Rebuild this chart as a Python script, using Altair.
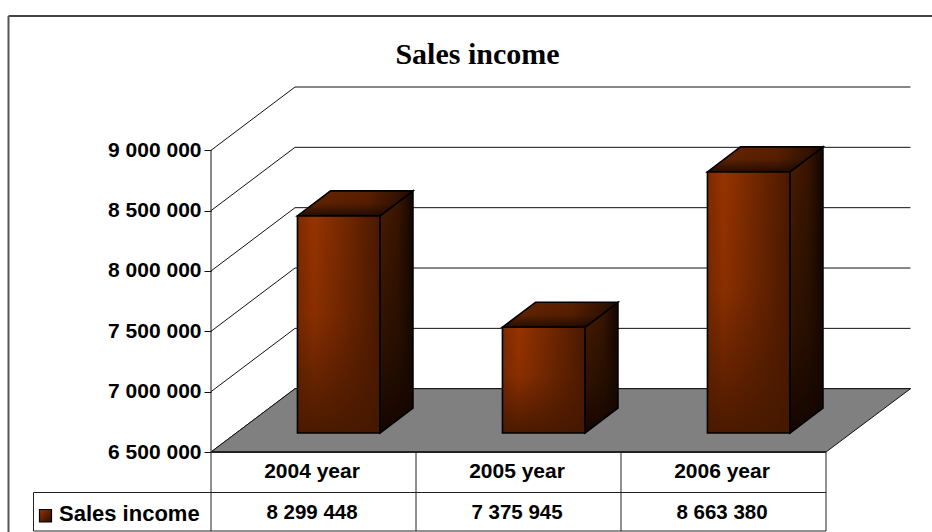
import altair as alt
import pandas as pd

# Chart content
CATEGORIES = ["2004 year", "2005 year", "2006 year"]
SALES = [8299448, 7375945, 8663380]
TICKS = [6500000, 7000000, 7500000, 8000000, 8500000, 9000000]
SERIES = "Sales income"

# Canvas and oblique projection, in pixels
W, H = 932, 532
FLOOR_Y = 452.0
PX_PER_UNIT = 301.7 / 2500000
AXIS_X = 211.0
COL_STEP = 205.0
WALL_DX, WALL_DY = 84.0, 63.3
WALL_END_X = 910.5
BAR_W = 82.5
BAR_SHIFT_DX, BAR_SHIFT_DY = 25.2, 19.0
BAR_DX, BAR_DY = 33.0, 25.0
BASE = TICKS[0]


def units(px):
    return px / PX_PER_UNIT


def row(px):
    """Value whose scale position is the given canvas row."""
    return BASE + units(FLOOR_Y - px)


Y_DOMAIN = [row(H), row(0)]
x_scale = alt.Scale(domain=[AXIS_X, W], range=[0, W - AXIS_X], nice=False, zero=False)
y_scale = alt.Scale(domain=Y_DOMAIN, range=[H, 0], nice=False, zero=False)
y_axis = alt.Axis(
    values=TICKS, domain=False, grid=False, tickSize=7,
    tickColor="#111", labelPadding=3, title=None,
    labelFont="Liberation Sans", labelFontSize=21, labelFontWeight="bold",
    labelColor="black", labelExpr="replace(format(datum.value, ','), /,/g, ' ')",
)
X = lambda f: alt.X(f, type="quantitative", scale=x_scale, axis=None)
Y = lambda f: alt.Y(f, type="quantitative", scale=y_scale, axis=y_axis)

# Wall grid: a diagonal from each tick to the back wall, then across it
wall = pd.DataFrame({"v": TICKS})
wall["back"] = wall.v + units(WALL_DY)
wall["ax"], wall["bx"], wall["ex"] = AXIS_X, AXIS_X + WALL_DX, WALL_END_X

# Floor parallelogram
floor = pd.DataFrame({
    "y": [BASE, BASE + units(WALL_DY)],
    "x": [AXIS_X, AXIS_X + WALL_DX],
    "x2": [AXIS_X + 3 * COL_STEP, WALL_END_X],
})

# Columns: front, side and top faces derived from each value
front, side, top = [], [], []
for i, (cat, val) in enumerate(zip(CATEGORIES, SALES)):
    x0 = AXIS_X + COL_STEP * (i + 0.5) + BAR_SHIFT_DX - BAR_W / 2
    x1 = x0 + BAR_W
    lo = BASE + units(BAR_SHIFT_DY)
    hi = val + units(BAR_SHIFT_DY)
    d = units(BAR_DY)
    front.append({"id": i, "x": x0, "x2": x1, "y": lo, "y2": hi})
    side += [
        {"id": i, "x": x1, "y": lo, "y2": hi},
        {"id": i, "x": x1 + BAR_DX, "y": lo + d, "y2": hi + d},
    ]
    top += [
        {"id": i, "y": hi, "x": x0, "x2": x1},
        {"id": i, "y": hi + d, "x": x0 + BAR_DX, "x2": x1 + BAR_DX},
    ]
front, side, top = map(pd.DataFrame, (front, side, top))


def grad(stops, x1=0, y1=0, x2=1, y2=0):
    return {
        "gradient": "linear", "x1": x1, "y1": y1, "x2": x2, "y2": y2,
        "stops": [{"offset": o, "color": c} for o, c in stops],
    }


FRONT_H = grad([(0, "#7c2b00"), (0.2, "#973300"), (0.55, "#752800"), (1, "#4a1900")])
FRONT_V = grad([(0, "rgba(60,18,0,0)"), (0.45, "rgba(70,24,0,0.15)"), (1, "rgba(70,24,0,0.95)")],
               x2=0, y2=1)
SIDE_H = grad([(0, "#4d1c00"), (0.55, "#3a1500"), (1, "#120500")])
SIDE_V = grad([(0, "rgba(20,8,0,0)"), (0.6, "rgba(24,10,0,0.55)"), (1, "rgba(18,4,0,0.95)")],
              x2=0, y2=1)
TOP_H = grad([(0, "#6a2700"), (0.6, "#5a2000"), (1, "#220c00")])
TOP_V = grad([(0, "rgba(20,6,0,0)"), (0.5, "rgba(20,6,0,0.1)"), (1, "rgba(20,6,0,0.8)")],
             x2=0, y2=1)
LEGEND_FILL = grad([(0, "#973300"), (1, "#2a0e00")], x2=1, y2=1)
EDGE = 1.6

layers = []

# Wall grid lines
layers.append(alt.Chart(wall).mark_rule(color="#111", strokeWidth=1).encode(
    x=X("ax"), x2="bx", y=Y("v"), y2="back"))
layers.append(alt.Chart(wall).mark_rule(color="#111", strokeWidth=1).encode(
    x=X("bx"), x2="ex", y=Y("back")))

# Floor
layers.append(alt.Chart(floor).mark_area(
    orient="horizontal", fill="#808080", stroke="#111", strokeWidth=1, strokeJoin="miter"
).encode(y=Y("y"), x=X("x"), x2="x2"))

# Columns
det = alt.Detail("id:N")
layers += [
    alt.Chart(side).mark_area(fill=SIDE_H).encode(x=X("x"), y=Y("y"), y2="y2", detail=det),
    alt.Chart(side).mark_area(fill=SIDE_V, stroke="black", strokeWidth=EDGE).encode(
        x=X("x"), y=Y("y"), y2="y2", detail=det),
    alt.Chart(top).mark_area(orient="horizontal", fill=TOP_H).encode(
        y=Y("y"), x=X("x"), x2="x2", detail=det),
    alt.Chart(top).mark_area(orient="horizontal", fill=TOP_V, stroke="black", strokeWidth=EDGE).encode(
        y=Y("y"), x=X("x"), x2="x2", detail=det),
    alt.Chart(front).mark_rect(fill=FRONT_H).encode(x=X("x"), x2="x2", y=Y("y"), y2="y2"),
    alt.Chart(front).mark_rect(fill=FRONT_V, stroke="black", strokeWidth=EDGE).encode(
        x=X("x"), x2="x2", y=Y("y"), y2="y2"),
]

# Data table under the plot
KEY_X = 33.5
TABLE_END = AXIS_X + 3 * COL_STEP
ROW1, ROW2, ROW3 = row(492.5), row(531.0), row(452.0)
table_h = pd.DataFrame([
    {"x": AXIS_X, "x2": TABLE_END, "y": ROW1},
    {"x": KEY_X, "x2": AXIS_X, "y": ROW1},
    {"x": KEY_X, "x2": TABLE_END, "y": ROW2},
])
table_v = pd.DataFrame([
    {"x": AXIS_X + k * COL_STEP, "y": ROW3, "y2": ROW2} for k in range(4)
] + [{"x": KEY_X, "y": ROW1, "y2": ROW2}])
layers.append(alt.Chart(table_h).mark_rule(color="#222", strokeWidth=1).encode(
    x=X("x"), x2="x2", y=Y("y")))
layers.append(alt.Chart(table_v).mark_rule(color="#222", strokeWidth=1).encode(
    x=X("x"), y=Y("y"), y2="y2"))
# Axis line and the heavier front edge of the floor
layers.append(alt.Chart(pd.DataFrame({"x": [AXIS_X], "lo": [BASE], "hi": [TICKS[-1]]})).mark_rule(
    color="#111", strokeWidth=1).encode(x=X("x"), y=Y("lo"), y2="hi"))
layers.append(alt.Chart(pd.DataFrame({"x": [AXIS_X], "x2": [TABLE_END], "y": [BASE]})).mark_rule(
    color="#222", strokeWidth=2).encode(x=X("x"), x2="x2", y=Y("y")))

table_text = pd.DataFrame({
    "xc": [AXIS_X + COL_STEP * (i + 0.5) - 1.5 for i in range(3)],
    "y1": row(472), "y2": row(512.5),
    "cat": CATEGORIES,
    "val": [f"{v:,}".replace(",", " ") for v in SALES],
})
TXT = dict(font="Liberation Sans", fontWeight="bold", color="black", baseline="middle", align="center")
layers.append(alt.Chart(table_text).mark_text(fontSize=21, **TXT).encode(
    x=X("xc"), y=Y("y1"), text="cat:N"))
layers.append(alt.Chart(table_text).mark_text(fontSize=20.5, **TXT).encode(
    x=X("xc"), y=Y("y2"), text="val:N"))

# Series key in the first table row
key = pd.DataFrame({"s": [SERIES], "x": [39.5], "x2": [51.5], "tx": [59.0],
                    "y": [row(509.5)], "y2": [row(522)], "ty": [row(514)]})
layers.append(alt.Chart(key).mark_rect(
    fill=LEGEND_FILL, stroke="black", strokeWidth=1.2
).encode(x=X("x"), x2="x2", y=Y("y"), y2="y2"))
layers.append(alt.Chart(key).mark_text(
    align="left", font="Liberation Sans", fontSize=22, fontWeight="bold", color="black", baseline="middle"
).encode(x=X("tx"), y=Y("ty"), text="s:N"))

# Title and outer frame
title = pd.DataFrame({"s": [SERIES], "x": [477.5], "y": [row(55)]})
layers.append(alt.Chart(title).mark_text(
    align="center", font="Liberation Serif", fontSize=30, fontWeight="bold", color="black", baseline="middle"
).encode(x=X("x"), y=Y("y"), text="s:N"))
frame = pd.DataFrame({"x": [8.5], "x2": [W], "y": [row(16)], "y2": [row(H)]})
layers.append(alt.Chart(frame).mark_rule(color="#444", strokeWidth=2).encode(
    x=X("x"), x2="x2", y=Y("y")))
layers.append(alt.Chart(frame).mark_rule(color="#555", strokeWidth=2).encode(
    x=X("x"), y=Y("y"), y2="y2"))

chart = alt.layer(*layers).properties(
    width=W - AXIS_X, height=H, background="white",
    padding={"left": AXIS_X, "top": 0, "right": 0, "bottom": 0},
    autosize=alt.AutoSizeParams(type="none"),
).configure_view(stroke=None)

chart.save("out.html", embed_options={"renderer": "svg", "actions": False})
